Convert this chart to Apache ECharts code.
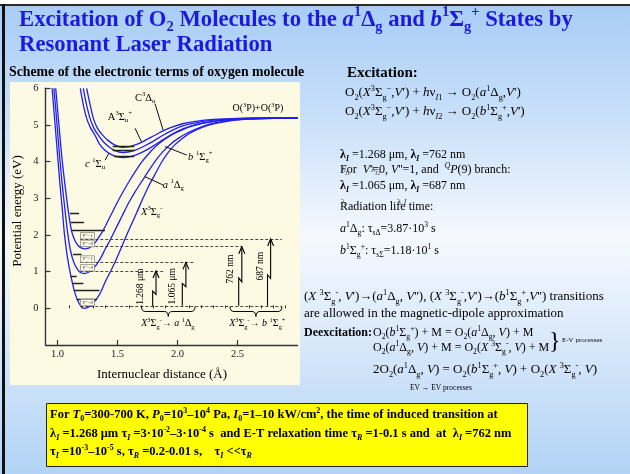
<!DOCTYPE html>
<html><head><meta charset="utf-8">
<script src="https://cdn.jsdelivr.net/npm/echarts@6/dist/echarts.min.js"></script>
<style>html,body{margin:0;padding:0;background:#fff}#c{width:630px;height:474px}</style>
</head><body><div id="c"></div>
<script>
// ---------- data (internuclear distance in Å, energy in eV) ----------
const curveX = [[0.955,6.0],[0.97,5.4],[0.985,4.8],[1.0,4.2],[1.02,3.4],[1.04,2.7],[1.057,2.05],[1.08,1.45],[1.104,1.0],[1.125,0.68],[1.145,0.42],[1.17,0.2],[1.195,0.06],[1.22,0.0],[1.25,0.02],[1.28,0.09],[1.31,0.19],[1.335,0.3],[1.36,0.44],[1.40,0.74],[1.44,0.99],[1.49,1.34],[1.54,1.72],[1.59,2.1],[1.645,2.5],[1.70,2.91],[1.75,3.27],[1.81,3.64],[1.865,3.97],[1.92,4.24],[1.975,4.45],[2.035,4.62],[2.1,4.77],[2.2,4.93],[2.3,5.03],[2.45,5.12],[2.6,5.16],[2.8,5.18],[3.0,5.19]];
const curveA = [[0.97,6.0],[0.985,5.45],[1.0,4.85],[1.02,4.05],[1.04,3.36],[1.06,2.75],[1.085,2.05],[1.11,1.55],[1.14,1.22],[1.17,1.05],[1.195,0.97],[1.225,0.95],[1.25,0.97],[1.28,1.03],[1.31,1.13],[1.335,1.24],[1.36,1.37],[1.40,1.63],[1.44,1.87],[1.49,2.2],[1.54,2.53],[1.59,2.86],[1.645,3.17],[1.70,3.45],[1.73,3.6],[1.78,3.85],[1.83,4.08],[1.88,4.28],[1.94,4.47],[2.0,4.62],[2.08,4.78],[2.2,4.95],[2.3,5.05],[2.45,5.13],[2.6,5.17],[2.8,5.18],[3.0,5.19]];
const curveB = [[0.985,6.0],[1.0,5.45],[1.02,4.7],[1.04,4.0],[1.0625,3.36],[1.09,2.65],[1.118,2.1],[1.145,1.85],[1.17,1.72],[1.20,1.64],[1.23,1.62],[1.26,1.64],[1.29,1.71],[1.32,1.82],[1.35,1.97],[1.38,2.12],[1.42,2.38],[1.46,2.64],[1.50,2.9],[1.55,3.2],[1.60,3.48],[1.65,3.74],[1.70,3.98],[1.75,4.18],[1.80,4.36],[1.86,4.53],[1.93,4.69],[2.0,4.81],[2.1,4.95],[2.2,5.04],[2.3,5.1],[2.45,5.15],[2.6,5.17],[2.8,5.18],[3.0,5.19]];
const curveCsu = [[1.19,6.0],[1.215,5.55],[1.243,5.18],[1.275,4.92],[1.3125,4.72],[1.35,4.48],[1.40,4.3],[1.45,4.19],[1.50,4.13],[1.55,4.11],[1.60,4.13],[1.66,4.19],[1.72,4.28],[1.80,4.43],[1.88,4.6],[1.96,4.76],[2.05,4.9],[2.15,5.01],[2.3,5.1],[2.5,5.16],[2.8,5.19],[3.0,5.19]];
const curveA3 = [[1.215,6.0],[1.24,5.58],[1.271,5.18],[1.305,4.9],[1.34,4.72],[1.38,4.55],[1.43,4.4],[1.48,4.3],[1.54,4.25],[1.60,4.27],[1.66,4.33],[1.72,4.42],[1.80,4.56],[1.88,4.72],[1.96,4.86],[2.05,4.98],[2.15,5.06],[2.3,5.13],[2.5,5.17],[2.8,5.19],[3.0,5.19]];
const curveC3 = [[1.243,6.0],[1.27,5.58],[1.299,5.18],[1.335,4.9],[1.374,4.73],[1.42,4.58],[1.48,4.45],[1.54,4.39],[1.60,4.41],[1.66,4.47],[1.72,4.56],[1.80,4.7],[1.88,4.84],[1.96,4.95],[2.05,5.04],[2.15,5.1],[2.3,5.15],[2.5,5.18],[2.8,5.19],[3.0,5.19]];
// vibrational levels: [r1, r2, E]
const levelLines = [[1.104,1.18,2.59],[1.11,1.22,2.36],[1.118,1.396,2.14],[1.13,1.20,1.47],[1.11,1.16,0.87],[1.125,1.215,0.68],[1.14,1.35,0.48],[1.16,1.33,0.26],[1.46,1.64,4.43],[1.46,1.645,4.30],[1.47,1.64,4.16]];
// transition levels (dashed): [r1, r2, E]
const dashedLevels = [[1.19,2.87,1.89],[1.19,2.535,1.68],[1.19,2.146,1.254],[1.19,1.88,1.017],[1.19,2.87,0.07]];
const levelTags = [[1.25,1.89,"V''=1"],[1.25,1.68,"V''=0"],[1.25,1.254,"V''=1"],[1.25,1.017,"V''=0"],[1.25,0.07,"V''=0"]];
// arrows: [r, E0, E1, zigTop, zigBottom, dr]
const arrows = [[1.793,0.07,1.02,0.47,0.38,0.028],[2.04,0.07,1.254,0.68,0.59,0.03],[2.51,0.07,1.68,0.83,0.72,0.026],[2.75,0.07,1.89,0.91,0.82,0.026]];
const braces = [[1.70,2.146,0.05],[2.4375,2.87,0.05]];
const pointers = [[[1.8125,5.58],[1.88,4.86]],[[1.646,4.91],[1.70,4.54]],[[1.396,4.04],[1.429,4.23]],[[1.896,4.41],[2.077,4.18]],[[1.729,3.59],[1.882,3.36]]];
const xTicks = [1.0,1.5,2.0,2.5];
const xMinorTicks = [0.9,1.1,1.2,1.3,1.4,1.6,1.7,1.8,1.9,2.1,2.2,2.3,2.4,2.6,2.7,2.8,2.9];
const yTicks = [0,1,2,3,4,5,6];
const annotations = [
  {t:'C^{3}Δ_{u}', at:[1.73,5.74], s:10.5},
  {t:'A^{3}Σ_{u}^{+}', at:[1.52,5.22], s:10.5},
  {t:'*c* ^{1}Σ_{u}', at:[1.3125,3.93], s:10.5},
  {t:'*b* ^{1}Σ_{g}^{+}', at:[2.19,4.13], s:10.5},
  {t:'*a* ^{1}Δ_{g}', at:[1.965,3.36], s:10.5},
  {t:'*X*^{3}Σ_{g}^{-}', at:[1.785,2.63], s:10.5},
  {t:'O(^{3}P)+O(^{3}P)', at:[2.67,5.45], s:10},
  {t:'1.268 μm', at:[1.69,0.59], s:9.5, rot:true},
  {t:'1.065 μm', at:[1.955,0.6], s:9.5, rot:true},
  {t:'762 nm', at:[2.44,1.07], s:9.5, rot:true},
  {t:'687 nm', at:[2.69,1.15], s:9.5, rot:true},
  {t:'*X*^{3}Σ_{g}^{-}→ *a* ^{1}Δ_{g}', at:[1.92,-0.42], s:10},
  {t:'*X*^{3}Σ_{g}^{-}→ *b* ^{1}Σ_{g}^{+}', at:[2.665,-0.42], s:10}
];

// ---------- helpers ----------
const SERIF = "'Liberation Serif','Times New Roman',serif";
const BLUE = '#1f1ff2';
function richStyles(s, bold, color){
  const st = {}; const lh = Math.round(s*1.3); const ss = +(s*0.64).toFixed(1);
  for (const w of ['n','i','b','bi']) {
    const fw = (bold || w.indexOf('b')>=0) ? 'bold' : 'normal';
    const fs = w.indexOf('i')>=0 ? 'italic' : 'normal';
    st[w] = {fontSize:s, fontWeight:fw, fontStyle:fs, fontFamily:SERIF, lineHeight:lh, fill:color, color:color};
    st[w+'P'] = {fontSize:ss, fontWeight:fw, fontStyle:fs, fontFamily:SERIF, lineHeight:Math.ceil(ss), verticalAlign:'top', fill:color, color:color};
    st[w+'B'] = {fontSize:ss, fontWeight:fw, fontStyle:fs, fontFamily:SERIF, lineHeight:Math.ceil(ss), verticalAlign:'bottom', fill:color, color:color};
  }
  return st;
}
function mk(src){
  let out='', buf='', it=false, bd=false, mode='';
  const flush=()=>{ if(buf){ out += '{' + (((bd?'b':'')+(it?'i':''))||'n') + mode + '|' + buf + '}'; buf=''; } };
  for (let k=0;k<src.length;k++){
    const c=src[k];
    if(c==='*'){flush(); it=!it; continue;}
    if(c==='~'){flush(); bd=!bd; continue;}
    if((c==='^'||c==='_') && src[k+1]==='{'){flush(); mode = c==='^'?'P':'B'; k++; continue;}
    if(c==='}' && mode){flush(); mode=''; continue;}
    buf+=c;
  }
  flush(); return out;
}
function textStyle(markup, size, o){
  o = o||{};
  const color = o.color||'#000';
  return {text: mk(markup), rich: richStyles(size, !!o.bold, color), fill: color,
    fontSize:size, fontFamily:SERIF, fontWeight:o.bold?'bold':'normal', lineHeight:Math.round(size*1.3),
    align:o.align||'left', verticalAlign:'middle', textAlign:o.align||'left', textVerticalAlign:'middle'};
}
function txt(x, y, markup, size, o){
  o = o||{};
  return {type:'text', x:x, y:y, rotation:o.rot||0, z:50, style: textStyle(markup, size, o)};
}

// ---------- page graphics ----------
const bgGrad = new echarts.graphic.LinearGradient(0,0,0,1,[
  {offset:0, color:'#a7ccf6'},{offset:0.25,color:'#c9e0fa'},{offset:0.5,color:'#f5f9fe'},{offset:0.62,color:'#e6f0fc'},{offset:1,color:'#b2d3f6'}]);
const graphics = [
  {type:'rect', z:-20, shape:{x:0,y:0,width:630,height:474}, style:{fill:bgGrad}},
  {type:'rect', z:-19, shape:{x:0,y:0,width:630,height:4}, style:{fill:'#fff'}},
  {type:'rect', z:-18, shape:{x:0,y:4,width:630,height:2}, style:{fill:'#2a2a2a'}},
  {type:'rect', z:-18, shape:{x:2,y:4,width:3,height:470}, style:{fill:'#111'}},
  {type:'rect', z:-15, shape:{x:10,y:82,width:290,height:303}, style:{fill:'#fdfae4'}},
  txt(19, 20, 'Excitation of O_{2} Molecules to the *a*^{1}Δ_{g} and *b*^{1}Σ_{g}^{+} States by', 22.7, {bold:true, color:'#1a1ae0'}),
  txt(19, 45, 'Resonant Laser Radiation', 22.7, {bold:true, color:'#1a1ae0'}),
  txt(9, 72, 'Scheme of the electronic terms of oxygen molecule', 13.8, {bold:true}),
  txt(347, 73, 'Excitation:', 15, {bold:true}),
  txt(345, 93, "O_{2}(*X*^{3}Σ_{g}^{−},*V*') + *h*ν_{*I*1} → O_{2}(*a*^{1}Δ_{g},*V*')", 13),
  txt(345, 112, "O_{2}(*X*^{3}Σ_{g}^{−},*V*') + *h*ν_{*I*2} → O_{2}(*b*^{1}Σ_{g}^{+},*V*')", 13),
  txt(340, 155, "~λ_{*I*}~ =1.268 μm, ~λ_{*I*}~ =762 nm", 12),
  txt(340, 170, "For  *V*'=0, *V*''=1, and  ^{*Q*}*P*(9) branch:", 12),
  txt(341, 170, "λ_{*I*1}", 9, {color:'#444'}),
  txt(371, 170, "λ_{*I*2}", 9, {color:'#444'}),
  txt(340, 186, "~λ_{*I*}~ =1.065 μm, ~λ_{*I*}~ =687 nm", 12),
  txt(340, 207, "Radiation life time:", 12),
  txt(341, 203, "λ", 9, {color:'#444'}),
  txt(397, 203, "λ *I*", 9, {color:'#444'}),
  txt(340, 229, "*a*^{1}Δ_{g}: τ_{sΔ}=3.87·10^{3} s", 12),
  txt(340, 251, "*b*^{1}Σ_{g}^{+}: τ_{sΣ}=1.18·10^{1} s", 12),
  txt(304, 297, "(*X* ^{3}Σ_{g}^{-}, *V*')→(*a*^{1}Δ_{g}, *V*''), (*X* ^{3}Σ_{g}^{-},*V*')→(*b*^{1}Σ_{g}^{+},*V*'') transitions", 13),
  txt(304, 314, "are allowed in the magnetic-dipole approximation", 13),
  txt(304, 333, "Deexcitation:", 12, {bold:true}),
  txt(373, 333, "O_{2}(*b*^{1}Σ_{g}^{+}) + M = O_{2}(*a*^{1}Δ_{g}, *V*) + M", 12),
  txt(373, 348, "O_{2}(*a*^{1}Δ_{g}, *V*) + M = O_{2}(*X* ^{3}Σ_{g}^{-}, *V*) + M", 12),
  txt(549, 342, "}", 24),
  txt(562, 340, "E-V processes", 7),
  txt(373, 370, "2O_{2}(*a*^{1}Δ_{g}, *V*) = O_{2}(*b*^{1}Σ_{g}^{+}, *V*) + O_{2}(*X* ^{3}Σ_{g}^{-}, *V*)", 13),
  txt(410, 388, "EV → EV processes", 7.5),
  {type:'rect', z:40, shape:{x:46.5,y:403.5,width:481,height:63}, style:{fill:'#ffff00', stroke:'#222', lineWidth:1}},
  txt(50, 415, "For *T*_{0}=300-700 K, *P*_{0}=10^{3}–10^{4} Pa, *I*_{0}=1–10 kW/cm^{2}, the time of induced transition at", 12.5, {bold:true}),
  txt(50, 434, "λ_{*I*} =1.268 μm τ_{*I*} =3·10^{-2}–3·10^{-4} s  and E-T relaxation time τ_{*R*} =1-0.1 s and  at  λ_{*I*} =762 nm", 12.5, {bold:true}),
  txt(50, 452, "τ_{*I*} =10^{-3}–10^{-5} s, τ_{*R*} =0.2-0.01 s,    τ_{*I*} <<τ_{*R*}", 12.5, {bold:true}),
  txt(18, 211, "Potential energy (eV)", 13, {align:'center', rot:Math.PI/2}),
  txt(162, 375, "Internuclear distance (Å)", 13, {align:'center'})
];

// ---------- series ----------
const curves = [curveX, curveA, curveB, curveCsu, curveA3, curveC3];
const series = curves.map(d => ({type:'line', data:d, symbol:'none', showSymbol:false, smooth:0.25,
  lineStyle:{color:BLUE, width:1.3}, silent:true, z:3, clip:false}));
series.push({type:'lines', coordinateSystem:'cartesian2d', silent:true, z:4,
  data: levelLines.map(l=>({coords:[[l[0],l[2]],[l[1],l[2]]]})), lineStyle:{color:'#222', width:1.4, opacity:1}});
series.push({type:'lines', coordinateSystem:'cartesian2d', silent:true, z:4,
  data: dashedLevels.map(l=>({coords:[[l[0],l[2]],[l[1],l[2]]]})), lineStyle:{color:'#333', width:0.9, type:[3,2], opacity:1}});
series.push({type:'lines', coordinateSystem:'cartesian2d', silent:true, z:4,
  data: pointers.map(p=>({coords:p})), lineStyle:{color:'#111', width:1, opacity:1}});
series.push({type:'custom', coordinateSystem:'cartesian2d', silent:true, z:5, data: arrows, encode:{x:0,y:1},
  renderItem:(p, api)=>{
    const r=api.value(0), e0=api.value(1), e1=api.value(2), zt=api.value(3), zb=api.value(4), dr=api.value(5);
    const a=api.coord([r,e0]), b=api.coord([r,zt]), c=api.coord([r+dr,zb]), d=api.coord([r+dr,e1]);
    return {type:'group', children:[
      {type:'polyline', shape:{points:[a,b,c,d]}, style:{stroke:'#000', lineWidth:1.1, fill:null}},
      {type:'polyline', shape:{points:[[d[0]-3,d[1]+7],[d[0],d[1]],[d[0]+3,d[1]+7]]}, style:{stroke:'#000', lineWidth:1.1, fill:null}}
    ]};
  }});
series.push({type:'custom', coordinateSystem:'cartesian2d', silent:true, z:5, data: braces, encode:{x:0,y:2},
  renderItem:(p, api)=>{
    const p1=api.coord([api.value(0), api.value(2)]), p2=api.coord([api.value(1), api.value(2)]);
    const y=p1[1], h=10, x1=p1[0], x2=p2[0], xm=(x1+x2)/2, q=4, ym=y+h*0.5;
    const d='M'+x1+','+y+' Q'+x1+','+ym+' '+(x1+q)+','+ym+' L'+(xm-q)+','+ym+' Q'+xm+','+ym+' '+xm+','+(y+h)+
      ' Q'+xm+','+ym+' '+(xm+q)+','+ym+' L'+(x2-q)+','+ym+' Q'+x2+','+ym+' '+x2+','+y;
    return {type:'path', shape:{pathData:d}, style:{stroke:'#000', lineWidth:1, fill:null}};
  }});
series.push({type:'custom', coordinateSystem:'cartesian2d', silent:true, z:6, data: levelTags.map(t=>[t[0],t[1]]), encode:{x:0,y:1},
  renderItem:(p, api)=>{
    const c=api.coord([api.value(0), api.value(1)]);
    return {type:'group', children:[
      {type:'rect', shape:{x:c[0]-7, y:c[1]-6.5, width:14, height:6.5}, style:{stroke:'#666', lineWidth:0.6, fill:'#fdfae4'}},
      {type:'text', x:c[0], y:c[1]-3.2, style:{text:levelTags[p.dataIndex][2], fontSize:4.8, fontStyle:'italic', fontFamily:SERIF, fill:'#333', align:'center', verticalAlign:'middle', textAlign:'center', textVerticalAlign:'middle'}}
    ]};
  }});
series.push({type:'custom', coordinateSystem:'cartesian2d', silent:true, z:7, data: annotations.map(a=>a.at), encode:{x:0,y:1},
  renderItem:(p, api)=>{
    const a = annotations[p.dataIndex];
    const c=api.coord([api.value(0), api.value(1)]);
    return {type:'text', x:c[0], y:c[1], rotation: a.rot?Math.PI/2:0, style: textStyle(a.t, a.s, {align:'center'})};
  }});

const axisFont = {fontFamily:SERIF, fontSize:10.5, color:'#222'};
const option = {
  animation:false,
  grid:{left:45.5, top:88.3, width:252, height:256.7, containLabel:false},
  xAxis:[
    {type:'value', min:0.9, max:3.0, position:'bottom',
      axisLine:{show:true, onZero:false, lineStyle:{color:'#333', width:1.4}},
      axisTick:{show:true, inside:true, length:5, customValues:xTicks, lineStyle:{color:'#333', width:1.2}},
      axisLabel:{show:true, customValues:xTicks, margin:4, formatter:v=>v.toFixed(1), ...axisFont},
      splitLine:{show:false}},
    {type:'value', min:0.9, max:3.0, position:'bottom', gridIndex:0,
      axisLine:{show:false}, axisLabel:{show:false}, splitLine:{show:false},
      axisTick:{show:true, inside:true, length:3, customValues:xMinorTicks, lineStyle:{color:'#333', width:1}}}
  ],
  yAxis:{type:'value', min:-1, max:6, interval:1,
    axisLine:{show:true, onZero:false, lineStyle:{color:'#333', width:1.4}},
    axisTick:{show:true, inside:true, length:5, customValues:yTicks, lineStyle:{color:'#333', width:1.2}},
    axisLabel:{show:true, customValues:yTicks, margin:7, ...axisFont},
    splitLine:{show:false}},
  graphic: graphics,
  series: series
};
const chart = echarts.init(document.getElementById('c'), null, {renderer:'canvas', width:630, height:474});
chart.setOption(option);
</script></body></html>
